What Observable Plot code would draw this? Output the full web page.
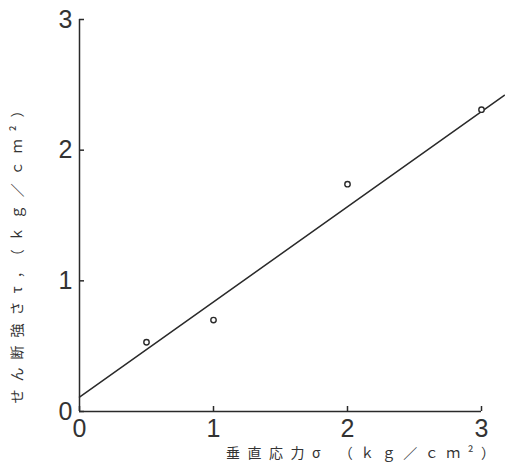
<!DOCTYPE html>
<html>
<head>
<meta charset="utf-8">
<script src="https://cdn.jsdelivr.net/npm/d3@7"></script>
<script src="https://cdn.jsdelivr.net/npm/@observablehq/plot@0.6"></script>
<style>
  html, body { margin: 0; padding: 0; background: #fff; }
  #chart svg { display: block; }
</style>
</head>
<body>
<div id="chart"></div>
<script>
// Measured data points: normal stress σ vs shear strength τ (kg/cm²)
const sigma = [0.5, 1, 2, 3];
const tau = [0.53, 0.70, 1.74, 2.31];
// Fitted straight line (end points as drawn)
const fitSigma = [0, 3.17];
const fitTau = [0.11, 2.42];
// Ticks
const xTicks = [0, 1, 2, 3];
const yTicks = [0, 1, 2, 3];
const xLabel = "垂直応力σ （ｋｇ／ｃｍ²）";
const yLabel = "せん断強さτ，（ｋｇ／ｃｍ²）";

const points = sigma.map((s, i) => ({s, t: tau[i]}));
const fit = fitSigma.map((s, i) => ({s, t: fitTau[i]}));

const ink = "#2a2a2a";
const cjk = "'Noto Sans CJK JP', sans-serif";
const fmt = d => String(d);

const chart = Plot.plot({
  width: 505,
  height: 468,
  marginLeft: 79,
  marginRight: 24,
  marginTop: 19,
  marginBottom: 57,
  style: {fontFamily: "'Liberation Sans', sans-serif", background: "#fff", color: ink},
  x: {domain: [0, 3]},
  y: {domain: [0, 3]},
  marks: [
    // tick labels
    Plot.axisX({ticks: xTicks, tickFormat: fmt, tickSize: 0, tickPadding: 8, fontSize: 25, label: null, fill: "#333"}),
    Plot.axisY({ticks: yTicks, tickFormat: fmt, tickSize: 0, tickPadding: 7, fontSize: 25, label: null, fill: "#333"}),
    // inward ticks
    Plot.axisX({ticks: xTicks, tickSize: 5, dy: -5, tickFormat: () => "", label: null, stroke: ink, strokeWidth: 1.5}),
    Plot.axisY({ticks: yTicks, tickSize: 5, dx: 5, tickFormat: () => "", label: null, stroke: ink, strokeWidth: 1.5}),
    // axis lines
    Plot.ruleX([0], {stroke: ink, strokeWidth: 1.5}),
    Plot.ruleY([0], {stroke: ink, strokeWidth: 1.5}),
    // fitted line
    Plot.line(fit, {x: "s", y: "t", stroke: ink, strokeWidth: 1.5}),
    // data points
    Plot.dot(points, {x: "s", y: "t", r: 2.7, stroke: ink, fill: "#fff", strokeWidth: 1.4}),
    // axis titles
    Plot.text([xLabel], {frameAnchor: "bottom-right", dx: 21, dy: 46, text: d => d, textAnchor: "end", fontSize: 14, fontFamily: cjk, fill: "#333", className: "xlab"}),
    Plot.text([yLabel], {frameAnchor: "left", dx: -62, dy: 34, rotate: -90, text: d => d, textAnchor: "middle", fontSize: 14, fontFamily: cjk, fill: "#333", className: "ylab"})
  ]
});

d3.select(chart).selectAll(".xlab text").style("letter-spacing", "7.5px");
d3.select(chart).selectAll(".ylab text").style("letter-spacing", "8px");
document.getElementById("chart").appendChild(chart);
</script>
</body>
</html>
